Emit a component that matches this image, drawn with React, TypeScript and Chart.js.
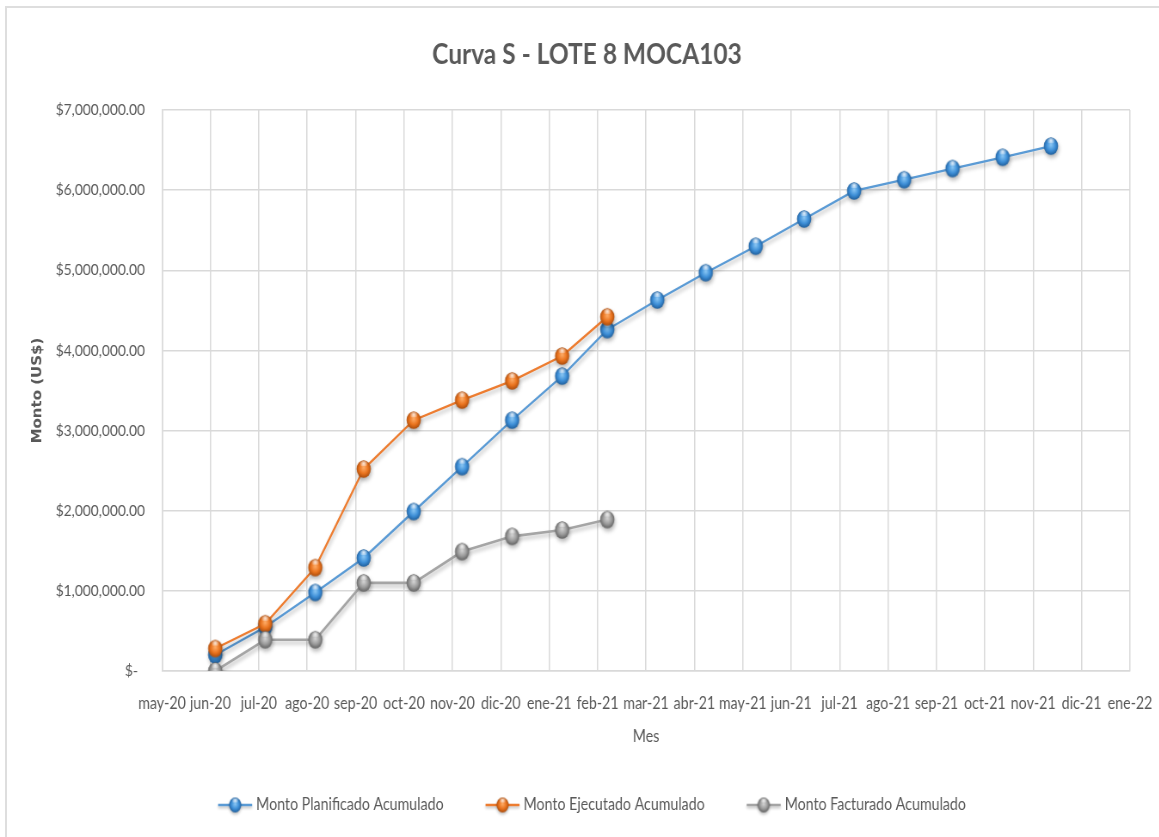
import React, { useEffect, useRef } from "react";
import { Chart, registerables } from "chart.js";

Chart.register(...registerables);

// ---------- DATA ----------
const chartTitle = "Curva S - LOTE 8 MOCA103";
const xAxisTitle = "Mes";
const yAxisTitle = "Monto (US$)";
const axisStartDate = "2020-05-28";
const axisSpanDays = 600;
const axisStepDays = 30;
const monthAbbr = ["ene", "feb", "mar", "abr", "may", "jun", "jul", "ago", "sep", "oct", "nov", "dic"];
const yMax = 7000000;
const yStep = 1000000;

const monthEnds = [
  "2020-06-30", "2020-07-31", "2020-08-31", "2020-09-30", "2020-10-31", "2020-11-30",
  "2020-12-31", "2021-01-31", "2021-02-28", "2021-03-31", "2021-04-30", "2021-05-31",
  "2021-06-30", "2021-07-31", "2021-08-31", "2021-09-30", "2021-10-31", "2021-11-30",
];
const seriesNames = ["Monto Planificado Acumulado", "Monto Ejecutado Acumulado", "Monto Facturado Acumulado"];
const plannedValues = [200000, 550000, 980000, 1410000, 1990000, 2550000, 3130000, 3680000, 4260000, 4630000, 4970000, 5300000, 5640000, 5990000, 6130000, 6270000, 6410000, 6550000];
const executedValues = [280000, 590000, 1290000, 2520000, 3130000, 3380000, 3620000, 3930000, 4420000];
const billedValues = [0, 390000, 390000, 1100000, 1100000, 1490000, 1680000, 1760000, 1890000];

// ---------- STYLE ----------
const FONT = "Lato, 'Liberation Sans', sans-serif";
const TEXT = "#595959";
const GRID = "#d9d9d9";
const lineColors = ["#5B9BD5", "#ED7D31", "#A5A5A5"];
const sphereColors = [
  { light: "#8cc8f5", base: "#3f90d8", dark: "#1d5a96" },
  { light: "#ffae6a", base: "#ea741f", dark: "#a3480b" },
  { light: "#d6d6d6", base: "#9c9c9c", dark: "#5c5c5c" },
];
// the reference is horizontally condensed: draw wider, then squeeze
const SX = 0.86;
const PAGE_W = 1159;
const PAGE_H = 837;
const CANVAS_W = Math.round(PAGE_W / SX);
const c = (v: number) => v / SX; // screen x-length -> canvas x-length

const DAY = 86400000;
const dayOf = (d: string) => (Date.parse(d) - Date.parse(axisStartDate)) / DAY;

function fmtMonth(v: number) {
  const d = new Date(Date.parse(axisStartDate) + v * DAY);
  return monthAbbr[d.getUTCMonth()] + "-" + String(d.getUTCFullYear()).slice(2);
}

function fmtMoney(v: number) {
  if (v === 0) return "$-  ";
  return "$" + v.toLocaleString("en-US", { minimumFractionDigits: 2, maximumFractionDigits: 2 });
}

function makeSphere(col: { light: string; base: string; dark: string }, scale = 1) {
  const w = Math.round(22 * scale), h = Math.round(22 * scale);
  const cv = document.createElement("canvas");
  cv.width = w; cv.height = h;
  const ctx = cv.getContext("2d")!;
  const cx = w / 2, cy = h / 2, rx = 8.3 * scale, ry = 8.8 * scale;
  const g = ctx.createRadialGradient(cx, cy - ry * 0.15, 0, cx, cy, ry * 1.05);
  g.addColorStop(0, col.light);
  g.addColorStop(0.55, col.base);
  g.addColorStop(1, col.dark);
  ctx.beginPath();
  ctx.ellipse(cx, cy, rx, ry, 0, 0, Math.PI * 2);
  ctx.fillStyle = g;
  ctx.fill();
  const hg = ctx.createRadialGradient(cx, cy - ry * 0.62, 0, cx, cy - ry * 0.62, rx * 0.6);
  hg.addColorStop(0, "rgba(255,255,255,0.85)");
  hg.addColorStop(1, "rgba(255,255,255,0)");
  ctx.beginPath();
  ctx.ellipse(cx, cy - ry * 0.6, rx * 0.6, ry * 0.3, 0, 0, Math.PI * 2);
  ctx.fillStyle = hg;
  ctx.fill();
  return cv;
}

const shadowPlugin = {
  id: "softShadow",
  beforeDatasetDraw(chart: any) {
    const ctx = chart.ctx;
    ctx.save();
    ctx.shadowColor = "rgba(0,0,0,0.28)";
    ctx.shadowBlur = 4;
    ctx.shadowOffsetX = 1;
    ctx.shadowOffsetY = 3;
  },
  afterDatasetDraw(chart: any) {
    chart.ctx.restore();
  },
};

export default function App() {
  const ref = useRef<HTMLCanvasElement>(null);

  useEffect(() => {
    if (!ref.current) return;
    const sprites = sphereColors.map((col) => makeSphere(col));
    const legendSprites = sphereColors.map((col) => makeSphere(col, 0.85));
    const seriesData = [plannedValues, executedValues, billedValues];

    const titlePlugin = {
      id: "customTitle",
      afterDraw(chart: any) {
        const ctx = chart.ctx;
        ctx.save();
        ctx.font = `bold 28.5px ${FONT}`;
        ctx.fillStyle = TEXT;
        ctx.textAlign = "center";
        ctx.textBaseline = "middle";
        ctx.fillText(chartTitle, c(587), 55);
        ctx.restore();
      },
    };

    const legendPlugin = {
      id: "customLegend",
      afterDraw(chart: any) {
        const ctx = chart.ctx;
        ctx.save();
        ctx.font = `16.5px ${FONT}`;
        ctx.textBaseline = "middle";
        ctx.textAlign = "left";
        const lineW = c(34), gapText = c(4), gapItem = c(42);
        const widths = seriesNames.map((n) => lineW + gapText + ctx.measureText(n).width);
        const total = widths.reduce((a, b) => a + b, 0) + gapItem * (widths.length - 1);
        let x = c(592) - total / 2;
        const y = 805;
        seriesNames.forEach((n, i) => {
          ctx.save();
          ctx.shadowColor = "rgba(0,0,0,0.25)";
          ctx.shadowBlur = 3;
          ctx.shadowOffsetY = 2;
          ctx.strokeStyle = lineColors[i];
          ctx.lineWidth = 2.5;
          ctx.beginPath();
          ctx.moveTo(x, y);
          ctx.lineTo(x + lineW, y);
          ctx.stroke();
          const s = legendSprites[i];
          ctx.drawImage(s, x + lineW / 2 - s.width / 2, y - s.height / 2);
          ctx.restore();
          ctx.fillStyle = TEXT;
          ctx.fillText(n, x + lineW + gapText, y);
          x += widths[i] + gapItem;
        });
        ctx.restore();
      },
    };

    const padLeft = 26;
    const chart = new Chart(ref.current, {
      type: "line",
      data: {
        datasets: seriesData.map((vals, i) => ({
          label: seriesNames[i],
          data: vals.map((v, k) => ({ x: dayOf(monthEnds[k]), y: v })),
          borderColor: lineColors[i],
          backgroundColor: lineColors[i],
          borderWidth: i === 2 ? 2.6 : 2.3,
          pointStyle: sprites[i] as any,
          pointRadius: 8,
          tension: 0,
          fill: false,
          order: 3 - i,
        })),
      },
      options: {
        animation: false,
        responsive: false,
        devicePixelRatio: 1,
        layout: { padding: { top: 110, left: padLeft, right: CANVAS_W - c(1130), bottom: 87 } },
        plugins: {
          legend: { display: false },
          tooltip: { enabled: false },
          title: { display: false },
        },
        scales: {
          x: {
            type: "linear",
            min: 0,
            max: axisSpanDays,
            afterFit: (s: any) => { s.height = 79; },
            ticks: {
              stepSize: axisStepDays,
              autoSkip: false,
              maxRotation: 0,
              minRotation: 0,
              padding: 2,
              color: TEXT,
              font: { family: FONT, size: 16.5 },
              callback: (v: any) => fmtMonth(Number(v)),
            },
            grid: { color: GRID, lineWidth: 1.5, drawTicks: true, tickLength: 21, tickColor: "rgba(0,0,0,0)" },
            border: { color: GRID, width: 1.5 },
            title: {
              display: true,
              text: xAxisTitle,
              color: TEXT,
              font: { family: FONT, size: 16.5 },
              padding: { top: 0, bottom: 3 },
            },
          },
          y: {
            min: 0,
            max: yMax,
            afterFit: (s: any) => { s.width = c(162) - padLeft; },
            ticks: {
              stepSize: yStep,
              padding: c(17),
              color: TEXT,
              font: { family: FONT, size: 16 },
              callback: (v: any) => fmtMoney(Number(v)),
            },
            grid: { color: GRID, lineWidth: 1.5, drawTicks: false },
            border: { color: GRID, width: 1.5 },
            title: {
              display: true,
              text: yAxisTitle,
              color: TEXT,
              font: { family: "'DejaVu Sans', sans-serif", size: 15, weight: "bold" },
              padding: { top: c(38) - padLeft - 9, bottom: 0 },
            },
          },
        },
      },
      plugins: [shadowPlugin, titlePlugin, legendPlugin],
    });
    return () => chart.destroy();
  }, []);

  return (
    <div style={{ position: "fixed", left: 0, top: 0, width: PAGE_W, height: PAGE_H, background: "#fff", overflow: "hidden" }}>
      <div style={{ position: "absolute", left: 5, top: 6, width: 1200, height: 900, borderTop: "2px solid #dedede", borderLeft: "2px solid #dedede" }} />
      <canvas
        ref={ref}
        width={CANVAS_W}
        height={PAGE_H}
        style={{ position: "absolute", left: 0, top: 0, width: CANVAS_W, height: PAGE_H, transform: `scaleX(${SX})`, transformOrigin: "0 0" }}
      />
    </div>
  );
}
